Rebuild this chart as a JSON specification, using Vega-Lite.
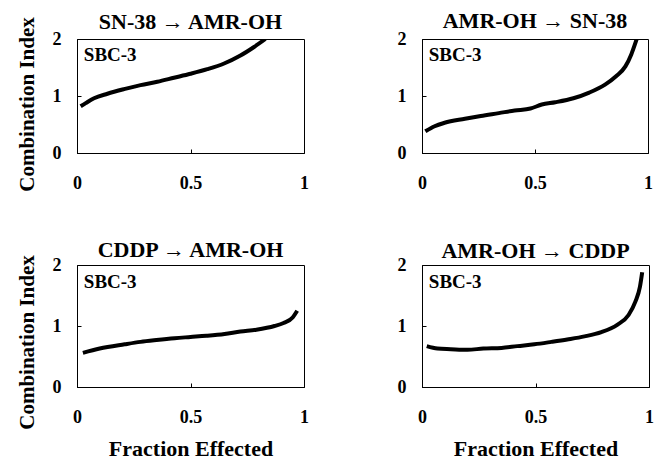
{
  "$schema": "https://vega.github.io/schema/vega-lite/v6.json",
  "padding": {"left": 15, "top": 9, "right": 5, "bottom": 2},
  "background": "white",
  "datasets": {
    "curves": [
      {"panel": "p1", "fa": 0.016, "ci": 0.82}, {"panel": "p1", "fa": 0.04, "ci": 0.88}, {"panel": "p1", "fa": 0.075, "ci": 0.96},
      {"panel": "p1", "fa": 0.134, "ci": 1.04}, {"panel": "p1", "fa": 0.207, "ci": 1.12}, {"panel": "p1", "fa": 0.28, "ci": 1.19},
      {"panel": "p1", "fa": 0.354, "ci": 1.25}, {"panel": "p1", "fa": 0.427, "ci": 1.32}, {"panel": "p1", "fa": 0.5, "ci": 1.39},
      {"panel": "p1", "fa": 0.574, "ci": 1.47}, {"panel": "p1", "fa": 0.648, "ci": 1.57}, {"panel": "p1", "fa": 0.72, "ci": 1.71},
      {"panel": "p1", "fa": 0.78, "ci": 1.86}, {"panel": "p1", "fa": 0.83, "ci": 2.0},
      {"panel": "p2", "fa": 0.015, "ci": 0.38}, {"panel": "p2", "fa": 0.056, "ci": 0.47}, {"panel": "p2", "fa": 0.10, "ci": 0.53},
      {"panel": "p2", "fa": 0.19, "ci": 0.60}, {"panel": "p2", "fa": 0.26, "ci": 0.65}, {"panel": "p2", "fa": 0.34, "ci": 0.70},
      {"panel": "p2", "fa": 0.41, "ci": 0.745}, {"panel": "p2", "fa": 0.48, "ci": 0.78}, {"panel": "p2", "fa": 0.53, "ci": 0.85},
      {"panel": "p2", "fa": 0.59, "ci": 0.89}, {"panel": "p2", "fa": 0.67, "ci": 0.96}, {"panel": "p2", "fa": 0.74, "ci": 1.06},
      {"panel": "p2", "fa": 0.81, "ci": 1.2}, {"panel": "p2", "fa": 0.86, "ci": 1.35}, {"panel": "p2", "fa": 0.90, "ci": 1.52},
      {"panel": "p2", "fa": 0.926, "ci": 1.73}, {"panel": "p2", "fa": 0.945, "ci": 1.94}, {"panel": "p2", "fa": 0.95, "ci": 2.0},
      {"panel": "p3", "fa": 0.026, "ci": 0.56}, {"panel": "p3", "fa": 0.10, "ci": 0.63}, {"panel": "p3", "fa": 0.21, "ci": 0.70},
      {"panel": "p3", "fa": 0.28, "ci": 0.74}, {"panel": "p3", "fa": 0.35, "ci": 0.77}, {"panel": "p3", "fa": 0.43, "ci": 0.80},
      {"panel": "p3", "fa": 0.5, "ci": 0.82}, {"panel": "p3", "fa": 0.57, "ci": 0.84}, {"panel": "p3", "fa": 0.65, "ci": 0.87},
      {"panel": "p3", "fa": 0.72, "ci": 0.91}, {"panel": "p3", "fa": 0.79, "ci": 0.94}, {"panel": "p3", "fa": 0.87, "ci": 1.0},
      {"panel": "p3", "fa": 0.91, "ci": 1.05}, {"panel": "p3", "fa": 0.95, "ci": 1.14}, {"panel": "p3", "fa": 0.97, "ci": 1.25},
      {"panel": "p4", "fa": 0.021, "ci": 0.67}, {"panel": "p4", "fa": 0.068, "ci": 0.63}, {"panel": "p4", "fa": 0.127, "ci": 0.62},
      {"panel": "p4", "fa": 0.2, "ci": 0.61}, {"panel": "p4", "fa": 0.27, "ci": 0.63}, {"panel": "p4", "fa": 0.35, "ci": 0.64},
      {"panel": "p4", "fa": 0.42, "ci": 0.67}, {"panel": "p4", "fa": 0.495, "ci": 0.70}, {"panel": "p4", "fa": 0.57, "ci": 0.74},
      {"panel": "p4", "fa": 0.64, "ci": 0.78}, {"panel": "p4", "fa": 0.716, "ci": 0.83}, {"panel": "p4", "fa": 0.79, "ci": 0.90},
      {"panel": "p4", "fa": 0.86, "ci": 1.02}, {"panel": "p4", "fa": 0.91, "ci": 1.18}, {"panel": "p4", "fa": 0.94, "ci": 1.40},
      {"panel": "p4", "fa": 0.96, "ci": 1.64}, {"panel": "p4", "fa": 0.97, "ci": 1.88}
    ],
    "tags": [{"fa": 0.03, "ci": 1.72, "label": "SBC-3"}]
  },
  "config": {
    "font": "Liberation Serif",
    "view": {"stroke": "#000", "strokeWidth": 1},
    "title": {"fontSize": 22, "fontWeight": "bold", "color": "#000", "font": "Liberation Serif", "frame": "group"},
    "axis": {
      "grid": false, "domainColor": "#000", "tickColor": "#000", "tickSize": -4, "tickWidth": 1,
      "labelFont": "Liberation Serif", "labelFontWeight": "bold", "labelFontSize": 18, "labelColor": "#000",
      "titleFont": "Liberation Serif", "titleFontWeight": "bold", "titleColor": "#000",
      "labelFlush": false, "labelOverlap": false, "labelBound": false
    },
    "axisX": {"labelPadding": 25, "titlePadding": 12, "titleFontSize": 22},
    "axisY": {"labelPadding": 20, "titlePadding": 15, "titleFontSize": 21}
  },
  "vconcat": [
    {
      "hconcat": [
        {
          "width": 227, "height": 114,
          "title": {"text": "SN-38 → AMR-OH", "offset": -3, "dy": 14},
          "layer": [
            {
              "data": {"name": "curves"},
              "transform": [{"filter": "datum.panel === 'p1'"}],
              "mark": {"type": "line", "color": "#000", "strokeWidth": 4, "interpolate": "monotone", "clip": true},
              "encoding": {
                "x": {"field": "fa", "type": "quantitative", "scale": {"domain": [0, 1], "nice": false}, "axis": {"title": null, "values": [0, 0.5, 1], "format": "~g", "labelOverlap": false}},
                "y": {"field": "ci", "type": "quantitative", "scale": {"domain": [0, 2], "nice": false}, "axis": {"title": "Combination Index", "titleY": 65, "values": [0, 1, 2], "format": "~g", "labelOverlap": false}}
              }
            },
            {
              "data": {"name": "tags"},
              "mark": {"type": "text", "align": "left", "baseline": "middle", "fontSize": 19, "fontWeight": "bold", "font": "Liberation Serif", "color": "#000"},
              "encoding": {"x": {"field": "fa", "type": "quantitative"}, "y": {"field": "ci", "type": "quantitative"}, "text": {"field": "label"}}
            }
          ]
        },
        {
          "width": 226, "height": 114,
          "title": {"text": "AMR-OH → SN-38", "offset": -3},
          "layer": [
            {
              "data": {"name": "curves"},
              "transform": [{"filter": "datum.panel === 'p2'"}],
              "mark": {"type": "line", "color": "#000", "strokeWidth": 4, "interpolate": "monotone", "clip": true},
              "encoding": {
                "x": {"field": "fa", "type": "quantitative", "scale": {"domain": [0, 1], "nice": false}, "axis": {"title": null, "values": [0, 0.5, 1], "format": "~g", "labelOverlap": false}},
                "y": {"field": "ci", "type": "quantitative", "scale": {"domain": [0, 2], "nice": false}, "axis": {"title": null, "values": [0, 1, 2], "format": "~g", "labelOverlap": false}}
              }
            },
            {
              "data": {"name": "tags"},
              "mark": {"type": "text", "align": "left", "baseline": "middle", "fontSize": 19, "fontWeight": "bold", "font": "Liberation Serif", "color": "#000"},
              "encoding": {"x": {"field": "fa", "type": "quantitative"}, "y": {"field": "ci", "type": "quantitative"}, "text": {"field": "label"}}
            }
          ]
        }
      ],
      "spacing": 87
    },
    {
      "hconcat": [
        {
          "width": 227, "height": 122,
          "title": {"text": "CDDP → AMR-OH", "offset": -7},
          "layer": [
            {
              "data": {"name": "curves"},
              "transform": [{"filter": "datum.panel === 'p3'"}],
              "mark": {"type": "line", "color": "#000", "strokeWidth": 4, "interpolate": "monotone", "clip": true},
              "encoding": {
                "x": {"field": "fa", "type": "quantitative", "scale": {"domain": [0, 1], "nice": false}, "axis": {"title": "Fraction Effected", "values": [0, 0.5, 1], "format": "~g", "labelOverlap": false}},
                "y": {"field": "ci", "type": "quantitative", "scale": {"domain": [0, 2], "nice": false}, "axis": {"title": "Combination Index", "titleY": 77, "values": [0, 1, 2], "format": "~g", "labelOverlap": false}}
              }
            },
            {
              "data": {"name": "tags"},
              "mark": {"type": "text", "align": "left", "baseline": "middle", "fontSize": 19, "fontWeight": "bold", "font": "Liberation Serif", "color": "#000"},
              "encoding": {"x": {"field": "fa", "type": "quantitative"}, "y": {"field": "ci", "type": "quantitative"}, "text": {"field": "label"}}
            }
          ]
        },
        {
          "width": 227, "height": 122,
          "title": {"text": "AMR-OH → CDDP", "offset": -7},
          "layer": [
            {
              "data": {"name": "curves"},
              "transform": [{"filter": "datum.panel === 'p4'"}],
              "mark": {"type": "line", "color": "#000", "strokeWidth": 4, "interpolate": "monotone", "clip": true},
              "encoding": {
                "x": {"field": "fa", "type": "quantitative", "scale": {"domain": [0, 1], "nice": false}, "axis": {"title": "Fraction Effected", "values": [0, 0.5, 1], "format": "~g", "labelOverlap": false}},
                "y": {"field": "ci", "type": "quantitative", "scale": {"domain": [0, 2], "nice": false}, "axis": {"title": null, "values": [0, 1, 2], "format": "~g", "labelOverlap": false}}
              }
            },
            {
              "data": {"name": "tags"},
              "mark": {"type": "text", "align": "left", "baseline": "middle", "fontSize": 19, "fontWeight": "bold", "font": "Liberation Serif", "color": "#000"},
              "encoding": {"x": {"field": "fa", "type": "quantitative"}, "y": {"field": "ci", "type": "quantitative"}, "text": {"field": "label"}}
            }
          ]
        }
      ],
      "spacing": 87
    }
  ],
  "spacing": 45
}
